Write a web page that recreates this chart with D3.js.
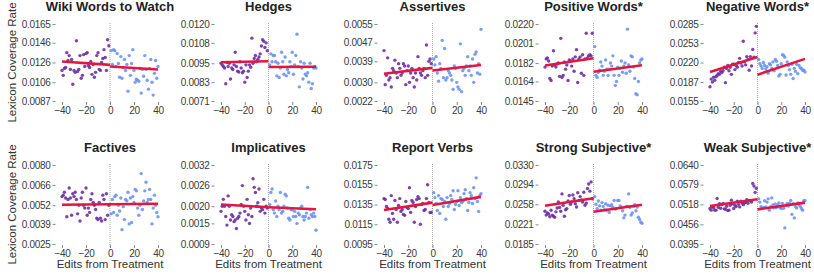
<!DOCTYPE html>
<html>
<head>
<meta charset="utf-8">
<script src="https://cdn.jsdelivr.net/npm/d3@7"></script>
<style>
  body { margin: 0; background: #fff; }
  svg text { font-family: "Liberation Sans", Arial, Helvetica, sans-serif; }
</style>
</head>
<body>
<svg id="chart" width="814" height="274"></svg>
<script>
const titles = ['Wiki Words to Watch', 'Hedges', 'Assertives', 'Positive Words*', 'Negative Words*',
                'Factives', 'Implicatives', 'Report Verbs', 'Strong Subjective*', 'Weak Subjective*'];

const yTickLabels = [
    ['0.0087', '0.0106', '0.0126', '0.0146', '0.0165'],
    ['0.0071', '0.0083', '0.0095', '0.0108', '0.0120'],
    ['0.0022', '0.0030', '0.0039', '0.0047', '0.0055'],
    ['0.0145', '0.0164', '0.0182', '0.0201', '0.0220'],
    ['0.0155', '0.0187', '0.0220', '0.0253', '0.0285'],
    ['0.0025', '0.0039', '0.0052', '0.0066', '0.0080'],
    ['0.0009', '0.0015', '0.0020', '0.0026', '0.0032'],
    ['0.0095', '0.0115', '0.0135', '0.0155', '0.0175'],
    ['0.0185', '0.0221', '0.0258', '0.0294', '0.0330'],
    ['0.0395', '0.0456', '0.0518', '0.0579', '0.0640']
];
const xTicks = [-40, -20, 0, 20, 40];

// coverage rates, in units of 1e-5; "before" = edits -40..-1, "after" = edits 1..40
const wikiBefore = [1180,1130,1200,1210,1360,1280,1330,1190,1290,1040,1180,1160,1480,1170,1190,1330,1100,1130,1340,1220,
                    1350,1360,1230,1210,1270,1140,1240,1110,1160,1330,1360,1190,1180,1260,1300,1390,1310,1180,1490,1430];
const wikiAfter  = [1380,1240,1390,1380,1220,1350,1250,1110,1320,1100,1210,1290,1180,1240, 970,1330,1130,1250,1390,1180,
                    1060,1090,1080,1070,1200, 950,1190,1120,1330,1190,1080, 990,1200,1290,1060, 930,1150,1280,1100,1220];
const hedgesBefore = [951,940,930,920,820,955,930,950,850,920,910,940,1020,930,900,895,960,920,890,900,
                      830,940,860,900,940,925,1110,950,980,1000,960,975,990,1010,1060,1100,1090,1050,1080,1030];
const hedgesAfter  = [940,1010,960,1000,1000,960,870,950,860,920,1020,960,880,990,870,910,890,960,930,1020,
                      880,940,1000,1135,930,800,960,920,850,950,880,870,890,830,950,790,820,920,930,920];
const assertBefore = [436,290,330,405,310,320,280,360,350,395,340,320,380,360,330,340,380,370,290,350,
                      370,300,340,360,320,280,340,310,410,360,340,330,350,360,320,460,330,390,400,380];
const assertAfter  = [400,375,410,340,305,380,360,480,320,445,310,320,350,340,330,310,270,370,360,300,
                      280,270,465,260,350,360,330,370,410,350,370,330,400,300,420,430,340,380,335,527];
const positiveBefore = [1780,1860,1870,1840,1670,1650,1790,1940,1800,1780,1810,1820,1690,2060,1680,1700,1830,1760,1800,1650,
                        1850,1840,1790,1860,1740,1880,1950,1630,1860,1880,1720,1900,1700,1860,2110,1870,1890,1900,1890,2110];
const positiveAfter  = [1980,1700,1680,1730,1750,1830,1790,1700,1740,1850,1760,1700,1760,1820,1790,1890,1700,1600,1640,1780,
                        1700,1770,1840,1730,1790,1820,1720,2150,1800,1740,1890,1880,1780,1670,1520,1510,1640,1820,1850,1860];
const negativeBefore = [1790,1920,1870,1950,1900,1960,1980,2010,2000,2050,2030,2060,2120,1860,2100,2150,2060,2120,2000,2170,
                        2170,2080,2150,2120,2200,2270,2190,2140,2560,2210,2160,2300,2250,2070,2300,2140,2420,2290,2700,2810];
const negativeAfter  = [2250,2180,2140,2100,2200,2150,2090,2130,2020,2180,2160,2100,2210,2060,2250,2220,2150,1970,2000,2180,
                        2330,2320,2290,1990,2210,2150,2080,2000,2170,1930,2100,2050,2170,2010,2150,2110,2100,2070,2070,2040];
const factivesBefore = [580,590,610,570,440,560,640,570,450,600,580,610,560,460,520,410,570,610,520,500,
                        640,450,500,470,560,600,540,520,490,430,420,540,430,410,590,560,420,600,450,520];
const factivesAfter  = [460,560,470,580,590,450,520,480,570,350,510,420,560,550,610,390,570,400,580,540,
                        630,620,500,450,520,740,490,550,620,680,540,560,630,560,390,500,590,520,470,440];
const implicBefore = [185,200,220,200,170,145,230,200,160,175,170,155,160,135,165,170,180,205,260,200,
                      185,160,220,175,150,195,170,280,255,240,200,210,250,185,195,190,220,180,200,195];
const implicAfter  = [205,240,250,190,180,215,170,200,190,240,180,185,200,235,230,195,165,160,190,190,
                      170,185,170,150,180,175,195,200,170,160,170,180,255,165,190,175,170,180,170,130];
const reportBefore = [1410,1400,1330,1310,1200,1170,1440,1260,1200,1390,1300,1170,1340,1410,1280,1300,1250,1240,1380,1320,
                      1310,1520,1270,1390,1370,1170,1330,1400,1430,1410,1150,1350,1360,1290,1300,1410,1550,1370,1270,1270];
const reportAfter  = [1470,1420,1360,1290,1440,1260,1410,1400,1330,1380,1200,1420,1330,1360,1440,1400,1490,1300,1350,1380,
                      1490,1340,1420,1370,1380,1460,1500,1410,1290,1370,1470,1440,1360,1520,1410,1620,1380,1280,1440,1460];
const strongBefore = [2450,2380,2420,2400,2350,2470,2380,2360,2340,2440,2510,2620,2520,2450,2770,2560,2360,2480,2500,2640,
                      2740,2580,2620,2750,2680,2590,2530,2790,2650,2720,2660,2620,2800,2560,2600,2870,2950,2820,2990,2680];
const strongAfter  = [2720,2580,2500,2640,2550,2470,2610,2540,2480,2590,2470,2560,2430,2550,2570,2520,2650,2490,2500,2650,
                      2650,2550,2520,2460,2330,2380,2540,2540,2770,2520,2380,2420,2540,2570,2460,2530,2340,2300,2250,2230];
const weakBefore = [5050,5000,5100,5080,5000,5000,5360,5090,5200,5060,5170,5210,5040,5030,5120,4990,5000,5150,5310,5200,
                    5050,5150,5110,5280,5180,5100,5280,5220,5170,5220,5240,5320,5210,5300,5290,5250,5830,5750,5550,5680];
const weakAfter  = [5350,5250,5110,5050,5080,5290,5100,5250,5350,5000,5110,5380,5160,5070,5190,5080,5150,5220,5080,5050,
                    5210,5060,4450,5140,5210,5130,5210,5300,4870,5200,4760,5110,5070,5220,5170,5120,5050,5000,5290,5300];

// fitted lines, 1e-5 units: [before @ -40, before @ 0, after @ 0, after @ 40]
const fitLines = [
    [1270, 1236, 1220, 1189],
    [957, 963, 926, 928],
    [337, 362, 351, 374],
    [1796, 1867, 1735, 1799],
    [2039, 2294, 1994, 2261],
    [523, 527, 527, 530],
    [205, 197, 197, 191],
    [1294, 1369, 1345, 1427],
    [2553, 2690, 2441, 2572],
    [5127, 5336, 5023, 5232]
];

const beforeSets = [wikiBefore, hedgesBefore, assertBefore, positiveBefore, negativeBefore,
                    factivesBefore, implicBefore, reportBefore, strongBefore, weakBefore];
const afterSets = [wikiAfter, hedgesAfter, assertAfter, positiveAfter, negativeAfter,
                   factivesAfter, implicAfter, reportAfter, strongAfter, weakAfter];

const editsBefore = d3.range(-40, 0);
const editsAfter = d3.range(1, 41);

// layout
const colLeft = [62, 221, 384, 545, 710];
const colRight = [158, 316, 481, 642, 805];
const rowTop = [24, 165];
const rowBottom = [101, 244];
const titleBase = [11, 152];

const purple = '#6d30a2';
const blue = '#6b94ee';
const red = '#e3173e';

const svg = d3.select('#chart');

titles.forEach((title, i) => {
    const col = i % 5, row = Math.floor(i / 5);
    const ticks = yTickLabels[i].map(Number);
    const x = d3.scaleLinear().domain([-40, 40]).range([colLeft[col], colRight[col]]);
    const y = d3.scaleLinear().domain([ticks[0], ticks[4]]).range([rowBottom[row], rowTop[row]]);
    const g = svg.append('g');

    // treatment marker
    g.append('line')
        .attr('x1', x(0)).attr('x2', x(0))
        .attr('y1', rowTop[row] - 1).attr('y2', rowBottom[row] + 3)
        .attr('stroke', '#aaa').attr('stroke-width', 1)
        .attr('stroke-dasharray', '1,1');

    const pts = editsBefore.map((e, j) => ({ e: e, v: beforeSets[i][j] * 1e-5, c: purple }))
        .concat(editsAfter.map((e, j) => ({ e: e, v: afterSets[i][j] * 1e-5, c: blue })));

    g.selectAll('circle')
        .data(pts)
        .enter()
        .append('circle')
        .attr('cx', d => x(d.e))
        .attr('cy', d => y(d.v))
        .attr('r', 1.7)
        .style('fill', d => d.c)
        .style('opacity', 0.9);

    const f = fitLines[i];
    const line = d3.line().x(d => x(d[0])).y(d => y(d[1] * 1e-5));
    [[[-40, f[0]], [0, f[1]]], [[0, f[2]], [40, f[3]]]].forEach(seg => {
        g.append('path')
            .attr('d', line(seg))
            .attr('fill', 'none')
            .attr('stroke', red)
            .attr('stroke-width', 2.6);
    });

    // axes
    const yAxis = d3.axisLeft(y).tickValues(ticks)
        .tickFormat((d, j) => yTickLabels[i][j])
        .tickSize(3).tickPadding(2);
    const gy = g.append('g')
        .attr('transform', `translate(${colLeft[col] - 6.5},0)`)
        .call(yAxis);
    gy.select('.domain').remove();

    const xAxis = d3.axisBottom(x).tickValues(xTicks).tickSize(3).tickPadding(2);
    const gx = g.append('g')
        .attr('transform', `translate(0,${rowBottom[row] + 1})`)
        .call(xAxis);
    gx.select('.domain').remove();

    [gy, gx].forEach(ax => {
        ax.attr('font-family', null).attr('font-size', null);
        ax.selectAll('.tick line').attr('stroke', '#888');
        ax.selectAll('.tick text')
            .style('font-size', '10px')
            .style('letter-spacing', '-0.3px')
            .attr('fill', '#3a3a3a');
    });

    g.append('text')
        .attr('x', x(0))
        .attr('y', titleBase[row])
        .attr('text-anchor', 'middle')
        .style('font-size', '13px')
        .style('font-weight', 'bold')
        .attr('fill', '#222')
        .text(title);

    if (col === 0) {
        g.append('text')
            .attr('transform', `translate(12,${(rowTop[row] + rowBottom[row]) / 2}) rotate(-90)`)
            .attr('text-anchor', 'middle')
            .attr('dy', '0.35em')
            .style('font-size', '11.5px')
            .attr('fill', '#333')
            .text('Lexicon Coverage Rate');
    }
    if (row === 1) {
        g.append('text')
            .attr('x', x(0))
            .attr('y', 268)
            .attr('text-anchor', 'middle')
            .style('font-size', '11.5px')
            .attr('fill', '#333')
            .text('Edits from Treatment');
    }
});
</script>
</body>
</html>
